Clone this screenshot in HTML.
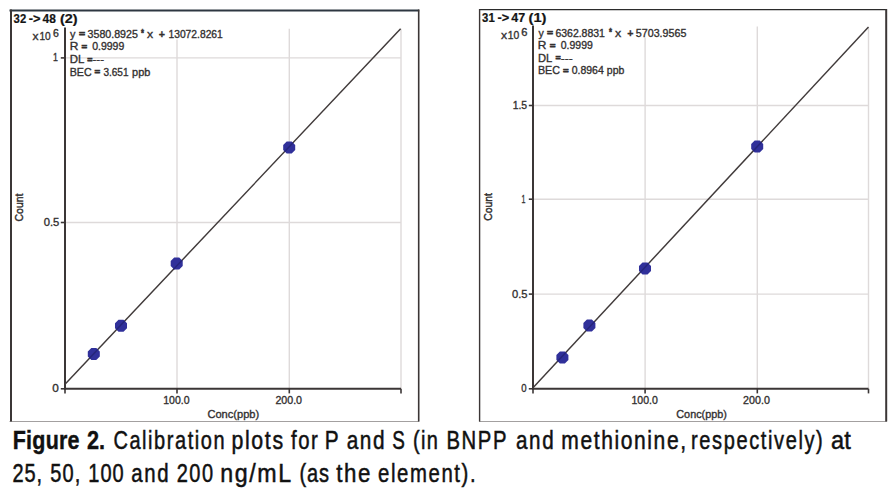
<!DOCTYPE html>
<html><head><meta charset="utf-8"><title>Figure 2. Calibration plots for P and S</title>
<style>
html,body{margin:0;padding:0;background:#fff;}
body{width:896px;height:495px;overflow:hidden;}
svg{display:block;font-family:"Liberation Sans",Arial,sans-serif;}
</style></head><body>
<svg width="896" height="495" viewBox="0 0 896 495">
<rect width="896" height="495" fill="#fff"/>
<line x1="177" y1="39.5" x2="177" y2="388.8" stroke="#dedada" stroke-width="1.4"/>
<line x1="289.3" y1="28.8" x2="289.3" y2="388.8" stroke="#dedada" stroke-width="1.4"/>
<line x1="401" y1="28.8" x2="401" y2="388.8" stroke="#dedada" stroke-width="1.4"/>
<line x1="65" y1="57.9" x2="401" y2="57.9" stroke="#dedada" stroke-width="1.4"/>
<line x1="65" y1="222.5" x2="401" y2="222.5" stroke="#dedada" stroke-width="1.4"/>
<line x1="9.5" y1="421.5" x2="419.2" y2="421.5" stroke="#a3a0a0" stroke-width="1"/>
<line x1="9.5" y1="10.5" x2="419.2" y2="10.5" stroke="#2d3741" stroke-width="2.2"/>
<line x1="11" y1="9.5" x2="11" y2="421.5" stroke="#3b3636" stroke-width="2"/>
<line x1="418.7" y1="9.5" x2="418.7" y2="421.5" stroke="#3b3636" stroke-width="1.6"/>
<line x1="65" y1="27.5" x2="65" y2="389.8" stroke="#3b3636" stroke-width="2"/>
<line x1="64" y1="388.8" x2="401" y2="388.8" stroke="#3b3636" stroke-width="2"/>
<line x1="60.8" y1="57.9" x2="65" y2="57.9" stroke="#3b3636" stroke-width="1.6"/>
<line x1="60.8" y1="222.5" x2="65" y2="222.5" stroke="#3b3636" stroke-width="1.6"/>
<line x1="60.8" y1="388.8" x2="65" y2="388.8" stroke="#3b3636" stroke-width="1.6"/>
<line x1="65" y1="388.8" x2="65" y2="393.40000000000003" stroke="#3b3636" stroke-width="1.6"/>
<line x1="177" y1="388.8" x2="177" y2="393.40000000000003" stroke="#3b3636" stroke-width="1.6"/>
<line x1="289.3" y1="388.8" x2="289.3" y2="393.40000000000003" stroke="#3b3636" stroke-width="1.6"/>
<line x1="401" y1="388.8" x2="401" y2="393.40000000000003" stroke="#3b3636" stroke-width="1.6"/>
<line x1="65" y1="384.2" x2="400.6" y2="28.8" stroke="#403a3a" stroke-width="1.45"/>
<polygon points="99.81,356.39 96.29,359.91 91.31,359.91 87.79,356.39 87.79,351.41 91.31,347.89 96.29,347.89 99.81,351.41" fill="#30309a"/>
<polygon points="127.01,328.29 123.49,331.81 118.51,331.81 114.99,328.29 114.99,323.31 118.51,319.79 123.49,319.79 127.01,323.31" fill="#30309a"/>
<polygon points="182.71,266.09 179.19,269.61 174.21,269.61 170.69,266.09 170.69,261.11 174.21,257.59 179.19,257.59 182.71,261.11" fill="#30309a"/>
<polygon points="295.21,149.89 291.69,153.41 286.71,153.41 283.19,149.89 283.19,144.91 286.71,141.39 291.69,141.39 295.21,144.91" fill="#30309a"/>
<clipPath id="cl"><polygon points="99.81,356.39 96.29,359.91 91.31,359.91 87.79,356.39 87.79,351.41 91.31,347.89 96.29,347.89 99.81,351.41"/><polygon points="127.01,328.29 123.49,331.81 118.51,331.81 114.99,328.29 114.99,323.31 118.51,319.79 123.49,319.79 127.01,323.31"/><polygon points="182.71,266.09 179.19,269.61 174.21,269.61 170.69,266.09 170.69,261.11 174.21,257.59 179.19,257.59 182.71,261.11"/><polygon points="295.21,149.89 291.69,153.41 286.71,153.41 283.19,149.89 283.19,144.91 286.71,141.39 291.69,141.39 295.21,144.91"/></clipPath>
<line x1="65" y1="384.2" x2="400.6" y2="28.8" stroke="#25257a" stroke-width="1.45" clip-path="url(#cl)"/>
<line x1="645.1" y1="37.5" x2="645.1" y2="388.8" stroke="#dedada" stroke-width="1.4"/>
<line x1="757.3" y1="26.5" x2="757.3" y2="388.8" stroke="#dedada" stroke-width="1.4"/>
<line x1="868.5" y1="27.5" x2="868.5" y2="388.8" stroke="#dedada" stroke-width="1.4"/>
<line x1="533" y1="105.5" x2="868.5" y2="105.5" stroke="#dedada" stroke-width="1.4"/>
<line x1="533" y1="199.2" x2="868.5" y2="199.2" stroke="#dedada" stroke-width="1.4"/>
<line x1="533" y1="294.1" x2="868.5" y2="294.1" stroke="#dedada" stroke-width="1.4"/>
<line x1="479" y1="421.5" x2="887" y2="421.5" stroke="#a3a0a0" stroke-width="1"/>
<line x1="479" y1="9.6" x2="887" y2="9.6" stroke="#2b2b2b" stroke-width="1.3"/>
<line x1="479.6" y1="9" x2="479.6" y2="421.5" stroke="#3b3636" stroke-width="1.4"/>
<line x1="886.2" y1="9" x2="886.2" y2="421.5" stroke="#3b3636" stroke-width="2"/>
<line x1="533" y1="25.4" x2="533" y2="389.8" stroke="#3b3636" stroke-width="2"/>
<line x1="532" y1="388.8" x2="868.5" y2="388.8" stroke="#3b3636" stroke-width="2"/>
<line x1="528.8" y1="105.5" x2="533" y2="105.5" stroke="#3b3636" stroke-width="1.6"/>
<line x1="528.8" y1="199.2" x2="533" y2="199.2" stroke="#3b3636" stroke-width="1.6"/>
<line x1="528.8" y1="294.1" x2="533" y2="294.1" stroke="#3b3636" stroke-width="1.6"/>
<line x1="528.8" y1="388.8" x2="533" y2="388.8" stroke="#3b3636" stroke-width="1.6"/>
<line x1="533" y1="388.8" x2="533" y2="393.40000000000003" stroke="#3b3636" stroke-width="1.6"/>
<line x1="645.1" y1="388.8" x2="645.1" y2="393.40000000000003" stroke="#3b3636" stroke-width="1.6"/>
<line x1="757.3" y1="388.8" x2="757.3" y2="393.40000000000003" stroke="#3b3636" stroke-width="1.6"/>
<line x1="868.5" y1="388.8" x2="868.5" y2="393.40000000000003" stroke="#3b3636" stroke-width="1.6"/>
<line x1="533" y1="387.7" x2="868.5" y2="27" stroke="#403a3a" stroke-width="1.45"/>
<polygon points="568.41,359.99 564.89,363.51 559.91,363.51 556.39,359.99 556.39,355.01 559.91,351.49 564.89,351.49 568.41,355.01" fill="#30309a"/>
<polygon points="595.41,327.89 591.89,331.41 586.91,331.41 583.39,327.89 583.39,322.91 586.91,319.39 591.89,319.39 595.41,322.91" fill="#30309a"/>
<polygon points="651.01,270.99 647.49,274.51 642.51,274.51 638.99,270.99 638.99,266.01 642.51,262.49 647.49,262.49 651.01,266.01" fill="#30309a"/>
<polygon points="763.21,148.89 759.69,152.41 754.71,152.41 751.19,148.89 751.19,143.91 754.71,140.39 759.69,140.39 763.21,143.91" fill="#30309a"/>
<clipPath id="cr"><polygon points="568.41,359.99 564.89,363.51 559.91,363.51 556.39,359.99 556.39,355.01 559.91,351.49 564.89,351.49 568.41,355.01"/><polygon points="595.41,327.89 591.89,331.41 586.91,331.41 583.39,327.89 583.39,322.91 586.91,319.39 591.89,319.39 595.41,322.91"/><polygon points="651.01,270.99 647.49,274.51 642.51,274.51 638.99,270.99 638.99,266.01 642.51,262.49 647.49,262.49 651.01,266.01"/><polygon points="763.21,148.89 759.69,152.41 754.71,152.41 751.19,148.89 751.19,143.91 754.71,140.39 759.69,140.39 763.21,143.91"/></clipPath>
<line x1="533" y1="387.7" x2="868.5" y2="27" stroke="#25257a" stroke-width="1.45" clip-path="url(#cr)"/>
<text x="13.62" y="23.4" font-size="12" font-weight="bold" fill="#141414" stroke="#141414" stroke-width="0.2" textLength="12.56" lengthAdjust="spacingAndGlyphs" xml:space="preserve">32</text>
<text x="28.80" y="23.4" font-size="12" font-weight="bold" fill="#141414" stroke="#141414" stroke-width="0.2" textLength="11.78" lengthAdjust="spacingAndGlyphs" xml:space="preserve">-&gt;</text>
<text x="42.60" y="23.4" font-size="12" font-weight="bold" fill="#141414" stroke="#141414" stroke-width="0.2" textLength="13.30" lengthAdjust="spacingAndGlyphs" xml:space="preserve">48</text>
<text x="59.93" y="23.4" font-size="12" font-weight="bold" fill="#141414" stroke="#141414" stroke-width="0.2" textLength="17.60" lengthAdjust="spacingAndGlyphs" xml:space="preserve">(2)</text>
<text x="32.50" y="39.5" font-size="11.5" font-weight="normal" fill="#333030" stroke="#333030" stroke-width="0.35" textLength="6.00" lengthAdjust="spacingAndGlyphs" xml:space="preserve">x</text>
<text x="39.47" y="39.5" font-size="11.5" font-weight="normal" fill="#333030" stroke="#333030" stroke-width="0.35" textLength="11.29" lengthAdjust="spacingAndGlyphs" xml:space="preserve">10</text>
<text x="53.11" y="37.3" font-size="10" font-weight="normal" fill="#333030" stroke="#333030" stroke-width="0.35" textLength="5.81" lengthAdjust="spacingAndGlyphs" xml:space="preserve">6</text>
<text x="70.00" y="37.5" font-size="11" font-weight="normal" fill="#333030" stroke="#333030" stroke-width="0.35" textLength="5.40" lengthAdjust="spacingAndGlyphs" xml:space="preserve">y</text>
<text x="79.07" y="37.2" font-size="9" font-weight="bold" fill="#333030" stroke="#333030" stroke-width="0.6" textLength="6.12" lengthAdjust="spacingAndGlyphs" xml:space="preserve">=</text>
<text x="87.57" y="37.5" font-size="11" font-weight="normal" fill="#333030" stroke="#333030" stroke-width="0.35" textLength="50.26" lengthAdjust="spacingAndGlyphs" xml:space="preserve">3580.8925</text>
<text x="141.00" y="37.0" font-size="11" font-weight="bold" fill="#333030" stroke="#333030" stroke-width="0.5" textLength="2.99" lengthAdjust="spacingAndGlyphs" xml:space="preserve">*</text>
<text x="147.00" y="37.5" font-size="11" font-weight="normal" fill="#333030" stroke="#333030" stroke-width="0.35" textLength="6.10" lengthAdjust="spacingAndGlyphs" xml:space="preserve">x</text>
<text x="158.77" y="37.5" font-size="11" font-weight="bold" fill="#333030" stroke="#333030" stroke-width="0.3" textLength="6.23" lengthAdjust="spacingAndGlyphs" xml:space="preserve">+</text>
<text x="168.46" y="37.5" font-size="11" font-weight="normal" fill="#333030" stroke="#333030" stroke-width="0.35" textLength="54.36" lengthAdjust="spacingAndGlyphs" xml:space="preserve">13072.8261</text>
<text x="69.66" y="50.2" font-size="11" font-weight="normal" fill="#333030" stroke="#333030" stroke-width="0.35" textLength="8.65" lengthAdjust="spacingAndGlyphs" xml:space="preserve">R</text>
<text x="81.40" y="49.9" font-size="9" font-weight="bold" fill="#333030" stroke="#333030" stroke-width="0.6" textLength="5.66" lengthAdjust="spacingAndGlyphs" xml:space="preserve">=</text>
<text x="92.17" y="50.2" font-size="11" font-weight="normal" fill="#333030" stroke="#333030" stroke-width="0.35" textLength="32.15" lengthAdjust="spacingAndGlyphs" xml:space="preserve">0.9999</text>
<text x="69.71" y="62.9" font-size="11" font-weight="normal" fill="#333030" stroke="#333030" stroke-width="0.35" textLength="14.57" lengthAdjust="spacingAndGlyphs" xml:space="preserve">DL</text>
<text x="87.22" y="62.6" font-size="9" font-weight="bold" fill="#333030" stroke="#333030" stroke-width="0.6" textLength="5.21" lengthAdjust="spacingAndGlyphs" xml:space="preserve">=</text>
<text x="92.54" y="62.9" font-size="11" font-weight="normal" fill="#333030" stroke="#333030" stroke-width="0.3" textLength="11.47" lengthAdjust="spacingAndGlyphs" xml:space="preserve">---</text>
<text x="69.77" y="75.5" font-size="11" font-weight="normal" fill="#333030" stroke="#333030" stroke-width="0.35" textLength="21.90" lengthAdjust="spacingAndGlyphs" xml:space="preserve">BEC</text>
<text x="94.50" y="75.2" font-size="9" font-weight="bold" fill="#333030" stroke="#333030" stroke-width="0.6" textLength="5.66" lengthAdjust="spacingAndGlyphs" xml:space="preserve">=</text>
<text x="103.39" y="75.5" font-size="11" font-weight="normal" fill="#333030" stroke="#333030" stroke-width="0.35" textLength="25.12" lengthAdjust="spacingAndGlyphs" xml:space="preserve">3.651</text>
<text x="132.12" y="75.5" font-size="11" font-weight="normal" fill="#333030" stroke="#333030" stroke-width="0.35" textLength="18.23" lengthAdjust="spacingAndGlyphs" xml:space="preserve">ppb</text>
<text x="53.05" y="61.2" font-size="11.5" font-weight="normal" fill="#333030" stroke="#333030" stroke-width="0.35" textLength="4.91" lengthAdjust="spacingAndGlyphs" xml:space="preserve">1</text>
<text x="43.65" y="226.2" font-size="11.5" font-weight="normal" fill="#333030" stroke="#333030" stroke-width="0.35" textLength="15.61" lengthAdjust="spacingAndGlyphs" xml:space="preserve">0.5</text>
<text x="52.33" y="392.1" font-size="11.5" font-weight="normal" fill="#333030" stroke="#333030" stroke-width="0.35" textLength="6.56" lengthAdjust="spacingAndGlyphs" xml:space="preserve">0</text>
<text x="163.24" y="403.5" font-size="11" font-weight="normal" fill="#333030" stroke="#333030" stroke-width="0.35" textLength="26.32" lengthAdjust="spacingAndGlyphs" xml:space="preserve">100.0</text>
<text x="275.40" y="403.5" font-size="11" font-weight="normal" fill="#333030" stroke="#333030" stroke-width="0.35" textLength="26.66" lengthAdjust="spacingAndGlyphs" xml:space="preserve">200.0</text>
<text x="207.48" y="417.6" font-size="11" font-weight="normal" fill="#333030" stroke="#333030" stroke-width="0.35" textLength="51.69" lengthAdjust="spacingAndGlyphs" xml:space="preserve">Conc(ppb)</text>
<text transform="translate(23.0,221.39) rotate(-90)" x="0" y="0" font-size="11" font-weight="normal" fill="#333030" stroke="#333030" stroke-width="0.45" textLength="27.75" lengthAdjust="spacingAndGlyphs">Count</text>
<text x="482.12" y="21.6" font-size="12" font-weight="bold" fill="#141414" stroke="#141414" stroke-width="0.2" textLength="12.66" lengthAdjust="spacingAndGlyphs" xml:space="preserve">31</text>
<text x="497.40" y="21.6" font-size="12" font-weight="bold" fill="#141414" stroke="#141414" stroke-width="0.2" textLength="11.78" lengthAdjust="spacingAndGlyphs" xml:space="preserve">-&gt;</text>
<text x="511.20" y="21.6" font-size="12" font-weight="bold" fill="#141414" stroke="#141414" stroke-width="0.2" textLength="13.91" lengthAdjust="spacingAndGlyphs" xml:space="preserve">47</text>
<text x="528.51" y="21.6" font-size="12" font-weight="bold" fill="#141414" stroke="#141414" stroke-width="0.2" textLength="17.92" lengthAdjust="spacingAndGlyphs" xml:space="preserve">(1)</text>
<text x="501.10" y="38.5" font-size="11.5" font-weight="normal" fill="#333030" stroke="#333030" stroke-width="0.35" textLength="6.10" lengthAdjust="spacingAndGlyphs" xml:space="preserve">x</text>
<text x="507.85" y="38.5" font-size="11.5" font-weight="normal" fill="#333030" stroke="#333030" stroke-width="0.35" textLength="11.50" lengthAdjust="spacingAndGlyphs" xml:space="preserve">10</text>
<text x="521.28" y="35.7" font-size="10" font-weight="normal" fill="#333030" stroke="#333030" stroke-width="0.35" textLength="6.17" lengthAdjust="spacingAndGlyphs" xml:space="preserve">6</text>
<text x="538.50" y="36.7" font-size="11" font-weight="normal" fill="#333030" stroke="#333030" stroke-width="0.35" textLength="5.30" lengthAdjust="spacingAndGlyphs" xml:space="preserve">y</text>
<text x="547.08" y="36.4" font-size="9" font-weight="bold" fill="#333030" stroke="#333030" stroke-width="0.6" textLength="6.06" lengthAdjust="spacingAndGlyphs" xml:space="preserve">=</text>
<text x="555.41" y="36.7" font-size="11" font-weight="normal" fill="#333030" stroke="#333030" stroke-width="0.35" textLength="49.52" lengthAdjust="spacingAndGlyphs" xml:space="preserve">6362.8831</text>
<text x="609.00" y="36.2" font-size="11" font-weight="bold" fill="#333030" stroke="#333030" stroke-width="0.5" textLength="2.99" lengthAdjust="spacingAndGlyphs" xml:space="preserve">*</text>
<text x="615.10" y="36.7" font-size="11" font-weight="normal" fill="#333030" stroke="#333030" stroke-width="0.35" textLength="6.20" lengthAdjust="spacingAndGlyphs" xml:space="preserve">x</text>
<text x="627.27" y="36.7" font-size="11" font-weight="bold" fill="#333030" stroke="#333030" stroke-width="0.3" textLength="6.23" lengthAdjust="spacingAndGlyphs" xml:space="preserve">+</text>
<text x="635.87" y="36.7" font-size="11" font-weight="normal" fill="#333030" stroke="#333030" stroke-width="0.35" textLength="50.47" lengthAdjust="spacingAndGlyphs" xml:space="preserve">5703.9565</text>
<text x="537.86" y="49.0" font-size="11" font-weight="normal" fill="#333030" stroke="#333030" stroke-width="0.35" textLength="8.65" lengthAdjust="spacingAndGlyphs" xml:space="preserve">R</text>
<text x="549.69" y="48.7" font-size="9" font-weight="bold" fill="#333030" stroke="#333030" stroke-width="0.6" textLength="5.78" lengthAdjust="spacingAndGlyphs" xml:space="preserve">=</text>
<text x="560.77" y="49.0" font-size="11" font-weight="normal" fill="#333030" stroke="#333030" stroke-width="0.35" textLength="32.05" lengthAdjust="spacingAndGlyphs" xml:space="preserve">0.9999</text>
<text x="537.93" y="61.6" font-size="11" font-weight="normal" fill="#333030" stroke="#333030" stroke-width="0.35" textLength="14.25" lengthAdjust="spacingAndGlyphs" xml:space="preserve">DL</text>
<text x="555.42" y="61.3" font-size="9" font-weight="bold" fill="#333030" stroke="#333030" stroke-width="0.6" textLength="5.21" lengthAdjust="spacingAndGlyphs" xml:space="preserve">=</text>
<text x="560.73" y="61.6" font-size="11" font-weight="normal" fill="#333030" stroke="#333030" stroke-width="0.3" textLength="11.90" lengthAdjust="spacingAndGlyphs" xml:space="preserve">---</text>
<text x="537.96" y="74.4" font-size="11" font-weight="normal" fill="#333030" stroke="#333030" stroke-width="0.35" textLength="22.01" lengthAdjust="spacingAndGlyphs" xml:space="preserve">BEC</text>
<text x="563.10" y="74.1" font-size="9" font-weight="bold" fill="#333030" stroke="#333030" stroke-width="0.6" textLength="5.66" lengthAdjust="spacingAndGlyphs" xml:space="preserve">=</text>
<text x="571.67" y="74.4" font-size="11" font-weight="normal" fill="#333030" stroke="#333030" stroke-width="0.35" textLength="32.09" lengthAdjust="spacingAndGlyphs" xml:space="preserve">0.8964</text>
<text x="606.85" y="74.4" font-size="11" font-weight="normal" fill="#333030" stroke="#333030" stroke-width="0.35" textLength="17.48" lengthAdjust="spacingAndGlyphs" xml:space="preserve">ppb</text>
<text x="512.65" y="109.1" font-size="11.5" font-weight="normal" fill="#333030" stroke="#333030" stroke-width="0.35" textLength="14.47" lengthAdjust="spacingAndGlyphs" xml:space="preserve">1.5</text>
<text x="521.56" y="202.8" font-size="11.5" font-weight="normal" fill="#333030" stroke="#333030" stroke-width="0.35" textLength="3.93" lengthAdjust="spacingAndGlyphs" xml:space="preserve">1</text>
<text x="511.95" y="298.0" font-size="11.5" font-weight="normal" fill="#333030" stroke="#333030" stroke-width="0.35" textLength="15.50" lengthAdjust="spacingAndGlyphs" xml:space="preserve">0.5</text>
<text x="521.30" y="392.1" font-size="11.5" font-weight="normal" fill="#333030" stroke="#333030" stroke-width="0.35" textLength="5.34" lengthAdjust="spacingAndGlyphs" xml:space="preserve">0</text>
<text x="631.44" y="403.5" font-size="11" font-weight="normal" fill="#333030" stroke="#333030" stroke-width="0.35" textLength="26.32" lengthAdjust="spacingAndGlyphs" xml:space="preserve">100.0</text>
<text x="743.10" y="403.5" font-size="11" font-weight="normal" fill="#333030" stroke="#333030" stroke-width="0.35" textLength="26.77" lengthAdjust="spacingAndGlyphs" xml:space="preserve">200.0</text>
<text x="676.29" y="417.6" font-size="11" font-weight="normal" fill="#333030" stroke="#333030" stroke-width="0.35" textLength="50.57" lengthAdjust="spacingAndGlyphs" xml:space="preserve">Conc(ppb)</text>
<text transform="translate(491.8,220.79) rotate(-90)" x="0" y="0" font-size="11" font-weight="normal" fill="#333030" stroke="#333030" stroke-width="0.45" textLength="27.75" lengthAdjust="spacingAndGlyphs">Count</text>
<text transform="matrix(0.86,0,0,1,12.76,448.8)" x="0" y="0" font-size="25" font-weight="bold" fill="#111" stroke="#111" stroke-width="0.4" textLength="77.65" lengthAdjust="spacing" xml:space="preserve">Figure</text>
<text x="87.02" y="448.8" font-size="25" font-weight="bold" fill="#111" stroke="#111" stroke-width="0.4" textLength="18.06" lengthAdjust="spacingAndGlyphs" xml:space="preserve">2.</text>
<text transform="matrix(0.8,0,0,1,113.46,448.8)" x="0" y="0" font-size="25" font-weight="normal" fill="#111" stroke="#111" stroke-width="0.5" textLength="138.95" lengthAdjust="spacing" xml:space="preserve">Calibration</text>
<text transform="matrix(0.8540764392839859,0,0,1,231.57,448.8)" x="0" y="0" font-size="25" font-weight="normal" fill="#111" stroke="#111" stroke-width="0.5" textLength="60.30" lengthAdjust="spacing" xml:space="preserve">plots</text>
<text transform="matrix(0.812315966386555,0,0,1,291.00,448.8)" x="0" y="0" font-size="25" font-weight="normal" fill="#111" stroke="#111" stroke-width="0.5" textLength="33.11" lengthAdjust="spacing" xml:space="preserve">for</text>
<text x="324.87" y="448.8" font-size="25" font-weight="normal" fill="#111" stroke="#111" stroke-width="0.5" textLength="13.90" lengthAdjust="spacingAndGlyphs" xml:space="preserve">P</text>
<text transform="matrix(0.832355775169857,0,0,1,346.65,448.8)" x="0" y="0" font-size="25" font-weight="normal" fill="#111" stroke="#111" stroke-width="0.5" textLength="45.56" lengthAdjust="spacing" xml:space="preserve">and</text>
<text x="392.21" y="448.8" font-size="25" font-weight="normal" fill="#111" stroke="#111" stroke-width="0.5" textLength="12.58" lengthAdjust="spacingAndGlyphs" xml:space="preserve">S</text>
<text transform="matrix(0.8,0,0,1,413.06,448.8)" x="0" y="0" font-size="25" font-weight="normal" fill="#111" stroke="#111" stroke-width="0.5" textLength="30.95" lengthAdjust="spacing" xml:space="preserve">(in</text>
<text transform="matrix(0.8113629712999442,0,0,1,446.42,448.8)" x="0" y="0" font-size="25" font-weight="normal" fill="#111" stroke="#111" stroke-width="0.5" textLength="73.99" lengthAdjust="spacing" xml:space="preserve">BNPP</text>
<text transform="matrix(0.824765904879554,0,0,1,516.06,448.8)" x="0" y="0" font-size="25" font-weight="normal" fill="#111" stroke="#111" stroke-width="0.5" textLength="45.59" lengthAdjust="spacing" xml:space="preserve">and</text>
<text transform="matrix(0.8416928301154554,0,0,1,561.28,448.8)" x="0" y="0" font-size="25" font-weight="normal" fill="#111" stroke="#111" stroke-width="0.5" textLength="148.26" lengthAdjust="spacing" xml:space="preserve">methionine,</text>
<text transform="matrix(0.8016680578989439,0,0,1,691.05,448.8)" x="0" y="0" font-size="25" font-weight="normal" fill="#111" stroke="#111" stroke-width="0.5" textLength="164.27" lengthAdjust="spacing" xml:space="preserve">respectively)</text>
<text x="831.06" y="448.8" font-size="25" font-weight="normal" fill="#111" stroke="#111" stroke-width="0.5" textLength="19.66" lengthAdjust="spacingAndGlyphs" xml:space="preserve">at</text>
<text transform="matrix(0.8,0,0,1,12.46,481.8)" x="0" y="0" font-size="25" font-weight="normal" fill="#111" stroke="#111" stroke-width="0.5" textLength="37.16" lengthAdjust="spacing" xml:space="preserve">25,</text>
<text transform="matrix(0.8,0,0,1,50.17,481.8)" x="0" y="0" font-size="25" font-weight="normal" fill="#111" stroke="#111" stroke-width="0.5" textLength="37.77" lengthAdjust="spacing" xml:space="preserve">50,</text>
<text transform="matrix(0.8,0,0,1,88.35,481.8)" x="0" y="0" font-size="25" font-weight="normal" fill="#111" stroke="#111" stroke-width="0.5" textLength="44.06" lengthAdjust="spacing" xml:space="preserve">100</text>
<text transform="matrix(0.8171760345892526,0,0,1,131.36,481.8)" x="0" y="0" font-size="25" font-weight="normal" fill="#111" stroke="#111" stroke-width="0.5" textLength="45.63" lengthAdjust="spacing" xml:space="preserve">and</text>
<text transform="matrix(0.8,0,0,1,176.66,481.8)" x="0" y="0" font-size="25" font-weight="normal" fill="#111" stroke="#111" stroke-width="0.5" textLength="45.54" lengthAdjust="spacing" xml:space="preserve">200</text>
<text transform="matrix(0.9287139488481772,0,0,1,220.15,481.8)" x="0" y="0" font-size="25" font-weight="normal" fill="#111" stroke="#111" stroke-width="0.5" textLength="76.37" lengthAdjust="spacing" xml:space="preserve">ng/mL</text>
<text transform="matrix(0.8,0,0,1,299.56,481.8)" x="0" y="0" font-size="25" font-weight="normal" fill="#111" stroke="#111" stroke-width="0.5" textLength="36.83" lengthAdjust="spacing" xml:space="preserve">(as</text>
<text transform="matrix(0.8921099855282203,0,0,1,336.30,481.8)" x="0" y="0" font-size="25" font-weight="normal" fill="#111" stroke="#111" stroke-width="0.5" textLength="38.34" lengthAdjust="spacing" xml:space="preserve">the</text>
<text transform="matrix(0.8134671814671817,0,0,1,378.06,481.8)" x="0" y="0" font-size="25" font-weight="normal" fill="#111" stroke="#111" stroke-width="0.5" textLength="119.95" lengthAdjust="spacing" xml:space="preserve">element).</text>
</svg>
</body></html>
